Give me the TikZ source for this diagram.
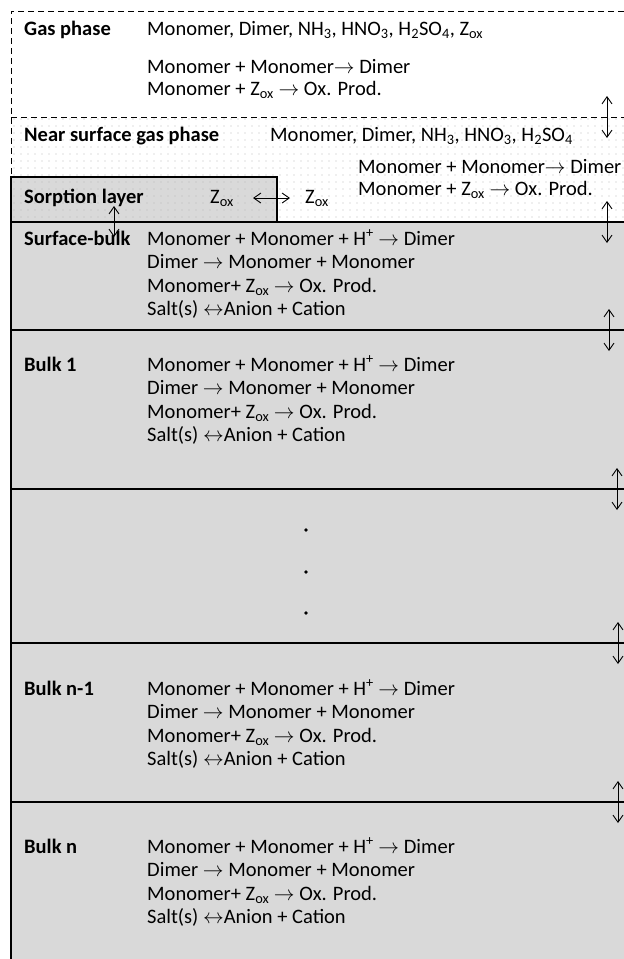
\documentclass[tikz,border=0pt]{standalone}
\usepackage{fontspec}
\setmainfont{Carlito}
\usepackage{tikz}
\usetikzlibrary{positioning}
\usetikzlibrary{arrows.meta}
\usetikzlibrary{patterns.meta}
\definecolor{layergray}{RGB}{217,217,217}
\definecolor{dotgray}{RGB}{185,185,185}
\newcommand{\diagfont}{\fontsize{20.5}{23.5}\selectfont}
\newcommand{\Zox}{Z\textsubscript{ox}}
\newcommand{\reactions}{Monomer + Monomer + H\textsuperscript{+} $\rightarrow$ Dimer\\
Dimer $\rightarrow$ Monomer + Monomer\\
Monomer+ \Zox{} $\rightarrow$ Ox. Prod.\\
Salt(s) $\leftrightarrow$Anion + Cation}
\tikzset{
    every picture/.append style={
        >={Straight Barb[length=2.5mm,width=3.5mm]}
    }
}
\tikzset{
    phase/.style={font=\diagfont\bfseries, anchor=base west, inner sep=0pt},
    species/.style={font=\diagfont, anchor=base west, inner sep=0pt},
    reac/.style={font=\diagfont, anchor=base west, inner sep=0pt, align=left},
    boundary/.style={line width=1.4pt},
    gasline/.style={line width=1pt, dash pattern=on 6pt off 4pt},
    exchange/.style={<->, line width=0.9pt},
    dotfill/.style={pattern={Dots[radius=0.6pt,distance=7pt]}, pattern color=dotgray},
}

\begin{document}
\begin{tikzpicture}[x=1pt, y=-1pt]
		\useasboundingbox (0,0) rectangle (624,959);
		
		\fill[layergray] (11,222) rectangle (624,959);
		\path[dotfill] (11,117) rectangle (624,222);
		\fill[layergray] (11,177) rectangle (277,222);
		\path[dotfill] (11,177) rectangle (277,222);
		
		\draw[gasline] (624,11) -- (11,11) -- (11,177);
		\draw[gasline] (11,117) -- (624,117);
		\draw[boundary] (11,177) rectangle (277,222);
		\draw[boundary] (11,177) -- (11,959);
		\draw[boundary] (277,222) -- (624,222);
		\foreach \y in {330,489,643,802}
			\draw[boundary] (11,\y) -- (624,\y);
		
		\node[phase] (gas) at (24,35) {Gas phase};
		\node[species] (gassp) at (147,35) {Monomer, Dimer, NH\textsubscript{3}, HNO\textsubscript{3}, H\textsubscript{2}SO\textsubscript{4}, \Zox};
		\node[species] (gasr1) at (147,73) {Monomer + Monomer$\rightarrow$ Dimer};
		\node[species] (gasr2) at (147,95) {Monomer + \Zox{} $\rightarrow$ Ox. Prod.};
		
		\node[phase] (near) at (24,141) {Near surface gas phase};
		\node[species] (nearsp) at (270,141) {Monomer, Dimer, NH\textsubscript{3}, HNO\textsubscript{3}, H\textsubscript{2}SO\textsubscript{4}};
		\node[species] (nearr1) at (358,173) {Monomer + Monomer$\rightarrow$ Dimer};
		\node[species] (nearr2) at (358,195) {Monomer + \Zox{} $\rightarrow$ Ox. Prod.};
		
		\node[phase] (sorp) at (24,203) {Sorption layer};
		\node[species] (zin) at (210,203) {\Zox};
		\node[species] (zout) at (305,203) {\Zox};
		\draw[exchange] ([xshift=19pt]zin.east) -- ([xshift=-15pt]zout.west);
		
		\foreach \y/\lab/\nm in {245/Surface-bulk/sb, 371/Bulk 1/bone, 695/Bulk n-1/bnm, 853/Bulk n/bn} {
			\node[phase] (\nm) at (24,\y) {\lab};
			\node[reac] (\nm-r) at (147,\y+70.5) {\reactions};
		}
		
		\foreach \i/\y in {1/530,2/572,3/613}
			\node[circle, fill=black, inner sep=1.4pt] (dot\i) at (306,\y) {};
		
		\coordinate (sorpup) at (114,206);
		\coordinate (sorpdn) at (114,237);
		\draw[exchange] (sorpup) -- (sorpdn);
		\foreach \x/\y [count=\i] in {607/117, 607/222, 609/330, 617/489, 618/643, 618/802} {
			\coordinate (up\i) at (\x,\y-21);
			\coordinate (dn\i) at (\x,\y+21);
			\draw[exchange] (up\i) -- (dn\i);
		}
\end{tikzpicture}
\end{document}
